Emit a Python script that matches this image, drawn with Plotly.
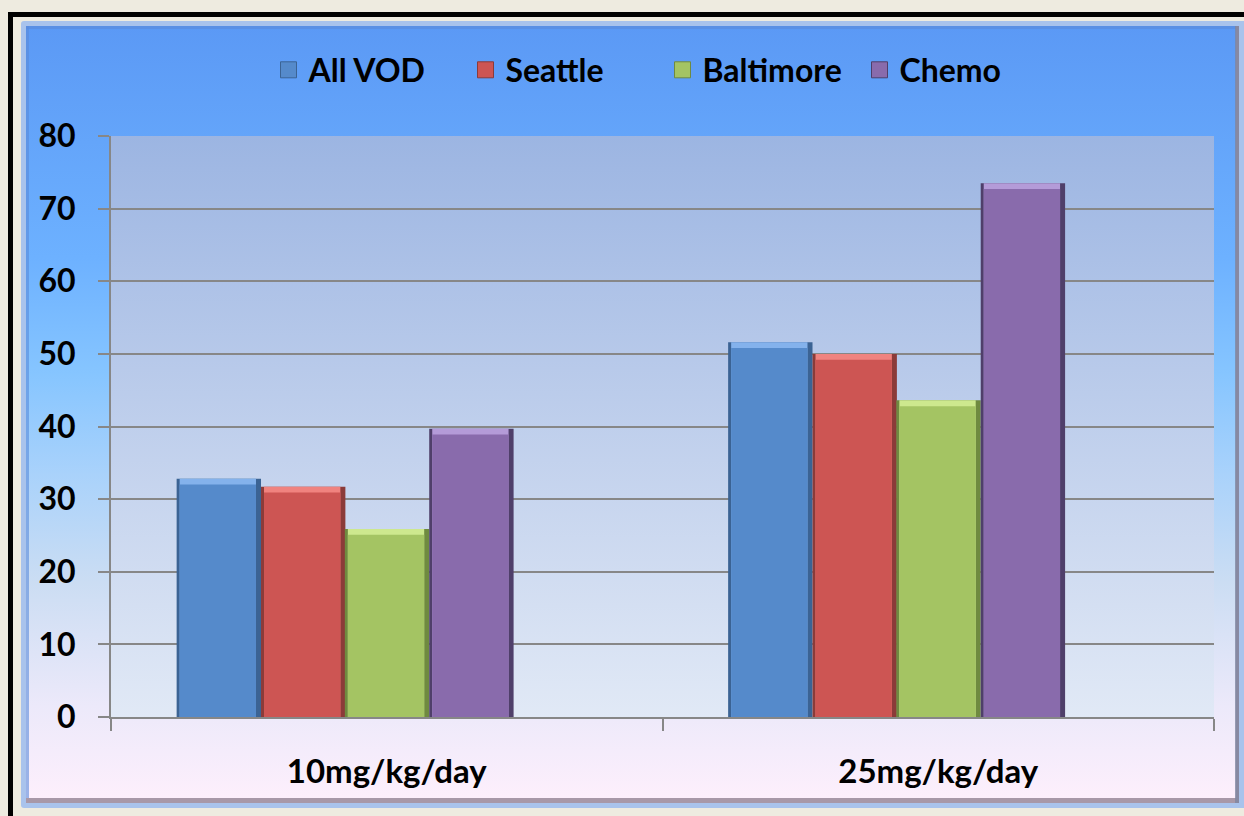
import base64
import plotly.graph_objects as go

# ---- data ----
categories = ["10mg/kg/day", "25mg/kg/day"]
series_names = ["All VOD", "Seattle", "Baltimore", "Chemo"]
all_vod = [32.8, 51.6]
seattle = [31.7, 50.0]
baltimore = [25.9, 43.6]
chemo = [39.7, 73.5]
y_ticks = [0, 10, 20, 30, 40, 50, 60, 70, 80]

series_values = [all_vod, seattle, baltimore, chemo]
colors = ["#558ACB", "#CD5553", "#A4C463", "#896BAC"]
dark_colors = ["#3B6394", "#8B3B39", "#6F8A40", "#4F3F6A"]
light_colors = ["#84B2EC", "#F0837F", "#CDE88E", "#B49BD8"]
offsets = [-0.381, -0.228, -0.076, 0.077]
bar_width = 0.153

W, H = 1244, 816
L, R, T, B = 111, 30, 136, 99
PW, PH = W - L - R, H - T - B

FONT = "Lato, 'DejaVu Sans', sans-serif"

# bevel geometry (category units / value units)
PX = bar_width / 84.0
LEFT_EDGE = 3 * PX
RIGHT_EDGE = 5 * PX
TOP_BAND = 0.8

outer_svg = f"""<svg xmlns='http://www.w3.org/2000/svg' width='{W}' height='{H}' viewBox='0 0 {W} {H}' preserveAspectRatio='none'>
<defs>
<linearGradient id='g' x1='0' y1='0' x2='0' y2='1'>
<stop offset='0' stop-color='#5B99F5'/>
<stop offset='0.30' stop-color='#6DB1FF'/>
<stop offset='0.45' stop-color='#86C5FF'/>
<stop offset='0.58' stop-color='#A9D2FB'/>
<stop offset='0.72' stop-color='#CBDDF3'/>
<stop offset='0.88' stop-color='#ECE9FA'/>
<stop offset='1' stop-color='#FDEFFC'/>
</linearGradient>
</defs>
<rect x='0' y='0' width='{W}' height='{H}' fill='#EEEBE0'/>
<rect x='10.5' y='14.5' width='1400' height='900' fill='none' stroke='#000000' stroke-width='5'/>
<rect x='21' y='21' width='1240' height='787' rx='3' fill='#A9C3EC'/>
<rect x='26' y='26' width='1213' height='777' fill='#A898A8'/>
<rect x='26' y='26' width='1210' height='772' fill='url(#g)'/>
<rect x='26' y='26' width='3' height='772' fill='#5A8BDA' opacity='0.6'/>
<rect x='26' y='26' width='1210' height='3' fill='#5A8BDA' opacity='0.6'/>
<rect x='1235' y='26' width='4' height='777' fill='#7E86A0' opacity='0.8'/>
</svg>"""

plot_svg = """<svg xmlns='http://www.w3.org/2000/svg' width='100' height='100' viewBox='0 0 100 100' preserveAspectRatio='none'>
<defs>
<linearGradient id='p' x1='0' y1='0' x2='0' y2='1'>
<stop offset='0' stop-color='#9CB5E2'/>
<stop offset='0.5' stop-color='#BFCFEC'/>
<stop offset='1' stop-color='#E1E9F6'/>
</linearGradient>
</defs>
<rect x='0' y='0' width='100' height='100' fill='url(#p)'/>
</svg>"""


def uri(svg):
    return "data:image/svg+xml;base64," + base64.b64encode(svg.encode()).decode()


fig = go.Figure()

for name, vals, c, dc, lc, off in zip(series_names, series_values, colors,
                                      dark_colors, light_colors, offsets):
    # full bar in the dark edge shade
    fig.add_trace(go.Bar(
        x=categories, y=vals, name=name, legendgroup=name, showlegend=False,
        marker=dict(color=dc, line=dict(width=0)),
        offset=off, width=bar_width, hoverinfo="x+y+name",
    ))
    # light top bevel
    fig.add_trace(go.Bar(
        x=categories, y=vals, name=name, legendgroup=name, showlegend=False,
        marker=dict(color=lc, line=dict(width=0)),
        offset=off + LEFT_EDGE, width=bar_width - LEFT_EDGE - RIGHT_EDGE,
        hoverinfo="skip",
    ))
    # main face
    fig.add_trace(go.Bar(
        x=categories, y=[v - TOP_BAND for v in vals], name=name, legendgroup=name,
        showlegend=False,
        marker=dict(color=c, line=dict(width=0)),
        offset=off + LEFT_EDGE, width=bar_width - LEFT_EDGE - RIGHT_EDGE,
        hoverinfo="skip",
    ))

for name, c, dc in zip(series_names, colors, dark_colors):
    fig.add_trace(go.Scatter(
        x=[None], y=[None], mode="markers", name=name, legendgroup=name,
        marker=dict(symbol="square", size=16, color=c, line=dict(color=dc, width=1)),
        showlegend=True,
    ))

fig.update_layout(
    width=W, height=H,
    margin=dict(l=L, r=R, t=T, b=B, autoexpand=False),
    paper_bgcolor="#EEEBE0",
    plot_bgcolor="rgba(0,0,0,0)",
    barmode="overlay",
    font=dict(family=FONT, size=32, color="#000000", weight="bold"),
    showlegend=True,
    legend=dict(
        orientation="h", x=0.5, xanchor="center",
        yref="container", y=1 - 70 / H, yanchor="middle",
        font=dict(family=FONT, size=32, color="#000000", weight="bold"),
        bgcolor="rgba(0,0,0,0)", itemwidth=30, tracegroupgap=0,
        entrywidth=152, entrywidthmode="pixels",
    ),
    images=[
        dict(source=uri(outer_svg), xref="paper", yref="paper",
             x=-L / PW, y=1 + T / PH, sizex=W / PW, sizey=H / PH,
             xanchor="left", yanchor="top", sizing="stretch", layer="below"),
        dict(source=uri(plot_svg), xref="paper", yref="paper",
             x=0, y=1, sizex=1, sizey=1,
             xanchor="left", yanchor="top", sizing="stretch", layer="below"),
    ],
)

fig.update_xaxes(
    type="category", categoryorder="array", categoryarray=categories,
    showline=True, linecolor="#878787", linewidth=2,
    ticks="outside", tickson="boundaries", ticklen=12, tickwidth=2, tickcolor="#878787",
    showgrid=False, zeroline=False,
    tickfont=dict(family=FONT, size=33, color="#000000", weight="bold"),
    ticklabelstandoff=24,
)
fig.update_yaxes(
    range=[0, 80], tickvals=y_ticks, ticktext=[str(v) for v in y_ticks],
    showline=True, linecolor="#878787", linewidth=2,
    ticks="outside", ticklen=11, tickwidth=2, tickcolor="#878787",
    showgrid=True, gridcolor="#878787", gridwidth=2,
    zeroline=False,
    tickfont=dict(family=FONT, size=32, color="#000000", weight="bold"),
    ticklabelstandoff=16,
)

fig.write_html(
    "out.html",
    config={"displayModeBar": False},
    post_script="document.body.style.margin='0';document.body.style.background='#EEEBE0';",
)
